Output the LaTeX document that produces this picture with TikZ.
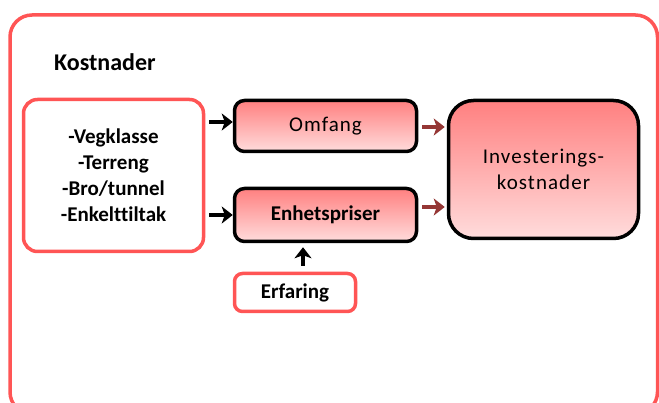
\documentclass[tikz,border=0pt]{standalone}
\usepackage{fontspec}
\setmainfont{Carlito}[Ligatures=NoCommon]
\newfontfamily\wideface{Carlito}[LetterSpace=5, Ligatures=NoCommon]
\usetikzlibrary{arrows.meta}
\definecolor{framered}{HTML}{FF5555}
\definecolor{boxtop}{HTML}{FF8080}
\definecolor{boxbot}{HTML}{FFDCDC}
\definecolor{arrbrown}{HTML}{953735}
\begin{document}
\begin{tikzpicture}[x=1pt, y=-1pt,
    redbox/.style={draw=framered, line width=3.5pt, rounded corners=14pt, fill=white, align=center},
    pinkbox/.style={draw=black, line width=3.5pt, rounded corners=10pt, top color=boxtop, bottom color=boxbot, align=center},
    blkarrow/.style={-{Stealth[length=11pt,width=17pt,inset=3pt]}, line width=4.5pt, black},
    brnarrow/.style={-{Stealth[length=11pt,width=17pt,inset=3pt]}, line width=4.5pt, arrbrown},
    boldtxt/.style={font=\bfseries\fontsize{21}{26}\selectfont},
    widetxt/.style={font=\wideface\fontsize{21}{26}\selectfont}]
    % page = 659 x 403 px, 1px = 1pt, y grows downwards
    \useasboundingbox (0,0) rectangle (659,403);
    % outer frame, runs off the right and bottom edge
    \draw[framered, line width=3.5pt, rounded corners=22pt] (10,15) rectangle (657.5,414);
    \node[font=\bfseries\fontsize{24}{28}\selectfont, anchor=west, inner sep=0pt] (kost) at (54,62) {Kostnader};
    % input list
    \node[redbox, boldtxt, minimum width=180pt, minimum height=152pt] (items) at (113.5,175.5)
        {-Vegklasse\\-Terreng\\-Bro/tunnel\\-Enkelttiltak};
    % middle column
    \node[pinkbox, widetxt, minimum width=182pt, minimum height=51pt] (omf) at (325.5,126) {Omfang};
    \node[pinkbox, boldtxt, minimum width=182pt, minimum height=53pt] (enh) at (325.5,215) {Enhetspriser};
    \node[redbox, boldtxt, rounded corners=8pt, minimum width=121pt, minimum height=38pt] (erf) at (295,292.5) {Erfaring};
    % result
    \node[pinkbox, widetxt, rounded corners=25pt, minimum width=190pt, minimum height=138pt] (inv) at (543.5,169.5) {Investerings-\\kostnader};
    % connectors
    \draw[blkarrow, shorten <=4pt] ([yshift=4pt]items.east |- omf.west) -- ([yshift=4pt]omf.west);
    \draw[blkarrow, shorten <=4pt] (items.east |- enh.west) -- (enh.west);
    \draw[brnarrow, shorten <=4pt, shorten >=2pt] ([yshift=-1pt]omf.east) -- ([yshift=-1pt]omf.east -| inv.west);
    \draw[brnarrow, shorten <=4pt, shorten >=2pt] ([yshift=8pt]enh.east) -- ([yshift=8pt]enh.east -| inv.west);
    \draw[blkarrow, shorten <=6pt, shorten >=4pt] ([xshift=8pt]erf.north) -- ([xshift=8pt]erf.north |- enh.south);
\end{tikzpicture}
\end{document}
